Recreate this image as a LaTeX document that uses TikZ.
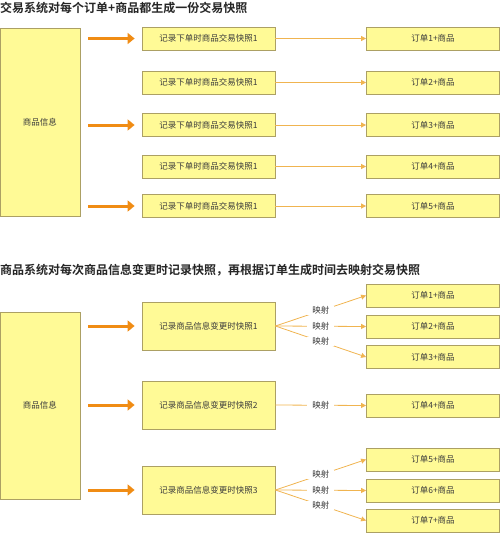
\documentclass[tikz,border=0pt]{standalone}
\usepackage{fontspec}
\setmainfont{Noto Sans CJK SC}[BoldFont={* Bold}]
\usepackage{tikz}
\usetikzlibrary{arrows.meta, positioning}
\definecolor{boxfill}{RGB}{255,250,150}
\definecolor{boxline}{RGB}{172,160,100}
\definecolor{darkorange}{RGB}{240,140,20}
\definecolor{lightorange}{RGB}{240,180,80}
\definecolor{textgray}{RGB}{60,60,60}

\begin{document}
\begin{tikzpicture}[x=1pt, y=-1pt, >=Stealth,
    box/.style={draw=boxline, fill=boxfill, line width=0.8pt, text=textgray,
        font=\fontsize{8.5}{10}\selectfont, inner sep=0pt},
    srcbox/.style={box, minimum width=80pt},
    snapbox/.style={box, minimum width=133pt},
    orderbox/.style={box, minimum width=133pt, minimum height=23pt},
    title/.style={anchor=west, inner sep=0pt, text=black!85,
        font=\fontsize{12}{14}\selectfont\bfseries},
    bigarrow/.style={-{Triangle[length=7pt, width=11pt]}, line width=3pt,
        darkorange, shorten <=8pt, shorten >=7pt},
    thinarrow/.style={-{Triangle[length=5pt, width=5pt]}, line width=0.8pt, lightorange},
    maplabel/.style={fill=white, text=textgray, inner xsep=5pt, inner ysep=0.5pt,
        font=\fontsize{8.5}{10}\selectfont}]

    \useasboundingbox (0,0) rectangle (500,533);

    % upper part: one snapshot for every order
    \node[title] (t1) at (0,7.5) {交易系统对每个订单+商品都生成一份交易快照};

    \node[srcbox, minimum height=188pt] (src1) at (40,122) {商品信息};

    \node[snapbox, minimum height=23pt] (a1) at (208.5,38.5) {记录下单时商品交易快照1};
    \node[snapbox, minimum height=23pt] (a2) at (208.5,82.5) {记录下单时商品交易快照1};
    \node[snapbox, minimum height=23pt] (a3) at (208.5,125) {记录下单时商品交易快照1};
    \node[snapbox, minimum height=23pt] (a4) at (208.5,166.5) {记录下单时商品交易快照1};
    \node[snapbox, minimum height=23pt] (a5) at (208.5,206) {记录下单时商品交易快照1};

    \node[orderbox] (o1) at (433,38.5) {订单1+商品};
    \node[orderbox] (o2) at (433,82.5) {订单2+商品};
    \node[orderbox] (o3) at (433,125) {订单3+商品};
    \node[orderbox] (o4) at (433,166.5) {订单4+商品};
    \node[orderbox] (o5) at (433,206) {订单5+商品};

    \draw[bigarrow] (src1.east |- a1) -- (a1.west);
    \draw[bigarrow] (src1.east |- a3) -- (a3.west);
    \draw[bigarrow] (src1.east |- a5) -- (a5.west);

    \draw[thinarrow] (a1.east) -- (o1.west);
    \draw[thinarrow] (a2.east) -- (o2.west);
    \draw[thinarrow] (a3.east) -- (o3.west);
    \draw[thinarrow] (a4.east) -- (o4.west);
    \draw[thinarrow] (a5.east) -- (o5.west);

    % lower part: snapshots on change, then mapped by order time
    \node[title] (t2) at (0,270) {商品系统对每次商品信息变更时记录快照，再根据订单生成时间去映射交易快照};

    \node[srcbox, minimum height=187pt] (src2) at (40,405.5) {商品信息};

    \node[snapbox, minimum height=48pt] (b1) at (208.5,326) {记录商品信息变更时快照1};
    \node[snapbox, minimum height=48pt] (b2) at (208.5,405) {记录商品信息变更时快照2};
    \node[snapbox, minimum height=48pt] (b3) at (208.5,490) {记录商品信息变更时快照3};

    \node[orderbox] (p1) at (433,295.5) {订单1+商品};
    \node[orderbox] (p2) at (433,326.5) {订单2+商品};
    \node[orderbox] (p3) at (433,357) {订单3+商品};
    \node[orderbox] (p4) at (433,405.5) {订单4+商品};
    \node[orderbox] (p5) at (433,459.5) {订单5+商品};
    \node[orderbox] (p6) at (433,490.5) {订单6+商品};
    \node[orderbox] (p7) at (433,520.5) {订单7+商品};

    \draw[bigarrow] (src2.east |- b1) -- (b1.west);
    \draw[bigarrow] (src2.east |- b2) -- (b2.west);
    \draw[bigarrow] (src2.east |- b3) -- (b3.west);

    \draw[thinarrow] (b1.east) -- node[maplabel] {映射} (p1.west);
    \draw[thinarrow] (b1.east) -- node[maplabel] {映射} (p2.west);
    \draw[thinarrow] (b1.east) -- node[maplabel] {映射} (p3.west);
    \draw[thinarrow] (b2.east) -- node[maplabel] {映射} (p4.west);
    \draw[thinarrow] (b3.east) -- node[maplabel] {映射} (p5.west);
    \draw[thinarrow] (b3.east) -- node[maplabel] {映射} (p6.west);
    \draw[thinarrow] (b3.east) -- node[maplabel] {映射} (p7.west);

\end{tikzpicture}
\end{document}
